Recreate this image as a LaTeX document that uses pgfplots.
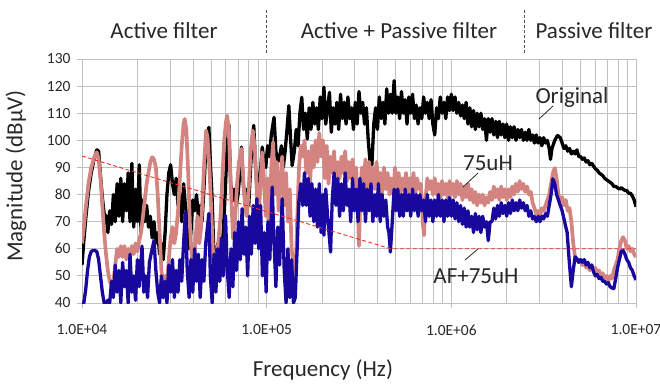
\documentclass[border=0pt]{standalone}
\usepackage{fontspec}
\setmainfont{Carlito}
\usepackage{pgfplots}
\usepackage{pgfplotstable}
\pgfplotsset{compat=1.18}
\definecolor{pinkc}{RGB}{212,132,128}
\definecolor{bluec}{RGB}{24,8,158}
\definecolor{redc}{RGB}{238,48,40}
\definecolor{gridc}{RGB}{192,192,192}
\definecolor{txtc}{RGB}{40,40,40}

\pgfplotstableread{
lx v
4.000 54
4.010 63
4.020 71
4.035 81
4.050 88
4.065 93
4.080 96.5
4.090 96
4.100 87
4.110 79
4.120 73
4.130 72
4.140 66
4.150 74
4.160 69
4.170 80
4.180 70
4.190 84
4.200 72
4.210 86
4.220 70
4.230 84
4.240 74
4.250 88
4.260 70
4.270 91.5
4.280 68
4.290 82
4.300 70
4.310 91
4.320 66
4.330 78
4.340 70
4.350 76
4.360 68
4.370 72
4.380 64
4.390 70
4.400 62
4.410 66
4.420 58
4.430 62
4.440 56
4.450 66
4.460 80
4.470 88
4.480 91
4.490 84
4.500 80
4.510 86
4.520 76
4.530 80
4.540 70
4.550 84
4.560 76
4.570 70
4.580 60
4.590 66
4.600 78
4.610 74
4.620 80
4.630 72
4.640 76
4.650 70
4.660 82
4.670 96
4.687 104.8
4.695 92
4.705 78
4.715 56
4.725 50
4.735 62
4.745 48
4.755 58
4.765 66
4.775 80
4.785 96
4.795 106
4.805 84
4.815 78
4.825 82
4.835 76
4.845 80
4.855 88
4.864 97.5
4.873 84
4.883 78
4.893 82
4.903 76
4.913 90
4.922 100
4.930 105.5
4.940 90
4.950 80
4.960 86
4.968 90
4.976 97.5
4.985 92
4.995 90
5.005 98
5.015 94
5.025 102
5.040 108.5
5.050 96
5.060 92
5.070 94
5.080 98
5.090 90
5.100 96
5.110 104
5.120 112.8
5.130 100
5.138 90.7
5.150 96
5.160 104
5.170 98
5.180 110
5.190 115.9
5.200 104
5.210 110
5.220 100.5
5.230 112
5.240 104
5.250 114
5.260 106
5.270 112
5.280 104
5.290 116
5.300 108
5.310 119.6
5.320 106
5.330 112
5.340 117.7
5.350 103
5.360 112
5.370 106
5.380 114
5.390 104
5.400 117
5.410 108
5.420 114
5.430 106
5.440 116
5.450 108
5.460 112
5.470 104
5.480 114
5.490 106
5.500 118
5.510 110
5.520 114
5.530 106
5.540 112
5.550 100
5.560 92
5.570 91
5.580 106
5.590 112
5.600 104
5.610 116
5.620 108
5.630 114
5.640 106
5.650 119
5.660 110
5.670 117
5.680 110
5.690 122
5.700 110
5.710 116
5.720 108
5.730 118
5.740 110
5.750 115
5.760 106
5.770 116
5.780 110
5.790 117
5.800 108
5.810 113
5.820 106
5.830 112
5.840 108
5.850 116
5.860 110
5.870 114
5.880 108
5.890 115
5.900 106
5.910 102
5.920 112
5.930 108
5.940 116
5.950 110
5.960 114
5.970 108
5.980 116
5.990 111
6.000 117
6.010 111
6.020 116
6.030 110
6.040 114
6.050 109
6.060 113
6.070 108
6.080 114
6.090 106
6.100 112
6.110 105
6.120 111
6.130 104
6.140 110
6.150 105
6.160 110
6.170 104
6.180 108
6.190 100
6.200 108
6.210 103
6.220 108
6.230 102
6.240 107
6.250 101
6.260 107
6.270 102
6.280 106
6.290 101
6.300 106
6.310 100
6.320 105
6.330 101
6.340 105
6.350 100
6.360 104
6.370 101
6.380 104
6.390 100
6.400 103
6.410 100
6.420 104
6.430 100
6.440 102
6.450 99
6.460 102
6.470 99
6.480 101
6.490 98
6.500 101
6.510 99
6.520 100
6.530 97
6.537 93
6.545 97
6.560 100
6.575 101.8
6.590 101
6.600 99
6.610 97
6.620 98
6.630 96
6.640 97
6.650 95
6.660 96
6.670 95
6.680 96.5
6.690 94
6.700 94
6.710 93
6.720 93.5
6.730 92
6.740 92.5
6.750 91
6.760 91.5
6.770 90.5
6.780 89.5
6.790 89
6.800 88
6.810 87.5
6.820 87
6.830 86
6.840 85.5
6.850 85
6.860 84.5
6.870 84
6.880 83
6.890 83
6.900 82.5
6.910 82
6.920 82.5
6.930 82
6.940 81.5
6.950 81.5
6.960 80.5
6.970 80.5
6.980 79.5
6.990 78
7.000 75.5
}\original

\pgfplotstableread{
lx v
4.000 62
4.010 68
4.020 75
4.035 84
4.050 90
4.065 93.5
4.080 95.6
4.090 93
4.100 86
4.110 76
4.120 66
4.130 58
4.140 52
4.150 48
4.160 46.6
4.170 48
4.180 54
4.190 60
4.200 57
4.210 61
4.220 57
4.230 61
4.240 56
4.250 60
4.260 57
4.270 61
4.280 58
4.290 62
4.300 59
4.310 63
4.320 66
4.330 72
4.340 78
4.350 84
4.360 88
4.370 92
4.380 93.8
4.390 93
4.400 90
4.410 80
4.420 66
4.430 52
4.440 47
4.450 50
4.460 46.6
4.470 56
4.480 64
4.490 68
4.500 62
4.510 66
4.520 74
4.530 86
4.540 98
4.550 106
4.556 107.9
4.565 104
4.575 88
4.585 68
4.595 56
4.605 54
4.615 64
4.625 72
4.635 62
4.645 68
4.655 82
4.665 96
4.672 103.6
4.680 101
4.690 90
4.700 74
4.710 58
4.720 51.5
4.730 56
4.740 64
4.750 72
4.760 86
4.770 100
4.780 107
4.786 109.1
4.795 104
4.805 84
4.818 63.7
4.830 72
4.840 84
4.850 92
4.864 96.9
4.875 84
4.885 74
4.893 72
4.903 82
4.913 96
4.925 103.6
4.937 96
4.947 80
4.956 71
4.965 82
4.976 95.6
4.985 86
4.995 72
5.005 86
5.015 66
5.025 90
5.035 99.3
5.045 80
5.055 92
5.065 74
5.075 86
5.084 94
5.095 76
5.105 88
5.115 70
5.125 82
5.135 60
5.145 54
5.156 50.2
5.165 70
5.175 90
5.185 98
5.195 94
5.205 100
5.215 88
5.225 96
5.235 84
5.245 98
5.255 90
5.265 100
5.275 92
5.285 102.7
5.295 94
5.305 100
5.315 86
5.325 98
5.335 84
5.345 94
5.355 88
5.365 96
5.375 84
5.385 92
5.395 86
5.405 94
5.415 88
5.425 96
5.435 85
5.445 92
5.455 86
5.465 93
5.475 84
5.485 90
5.495 72
5.500 61
5.505 74
5.515 90
5.525 84
5.535 93
5.545 80
5.555 92
5.565 84
5.575 90
5.585 82
5.595 92
5.605 84
5.615 88
5.625 80
5.635 90
5.645 82
5.655 88
5.665 80
5.675 86
5.685 80
5.695 90
5.705 82
5.715 88
5.725 80
5.735 86
5.745 82
5.755 88
5.765 80
5.775 86
5.785 82
5.795 88
5.805 80
5.815 86
5.825 82
5.835 84
5.845 70
5.852 65
5.860 78
5.870 86
5.880 82
5.890 85
5.900 80
5.910 86
5.920 80
5.930 84
5.940 79
5.950 85
5.960 80
5.970 84
5.980 79
5.990 85
6.000 80
6.010 84
6.020 79
6.030 85
6.040 80
6.050 84
6.060 78
6.070 83
6.080 79
6.090 84
6.100 78
6.110 82
6.120 77
6.130 81
6.140 76
6.150 80
6.160 77
6.170 80
6.180 76
6.190 79
6.200 77
6.210 81
6.220 78
6.230 83
6.240 79
6.250 82
6.260 78
6.270 83
6.280 79
6.290 82
6.300 78
6.310 82
6.320 79
6.330 83
6.340 80
6.350 84
6.360 81
6.370 85
6.380 82
6.390 84
6.400 81
6.410 83
6.420 80
6.430 81
6.440 77
6.450 75
6.460 73
6.470 74
6.480 72
6.490 75
6.500 74
6.510 76
6.520 78
6.530 80
6.540 84
6.550 88
6.560 89.8
6.570 86
6.580 80
6.590 78
6.600 79
6.610 76
6.620 78
6.630 74
6.640 75
6.650 70
6.660 62
6.670 57
6.680 56
6.690 55
6.700 56
6.710 54
6.720 55
6.730 53
6.740 54
6.750 52
6.760 54
6.770 52
6.780 53
6.790 51
6.800 52
6.810 50
6.820 51
6.830 49
6.840 50
6.850 48
6.860 50
6.870 49
6.880 52
6.890 54
6.900 56
6.910 60
6.920 63
6.930 64.3
6.940 63
6.950 60
6.960 61
6.970 59
6.980 60
6.990 58
7.000 57
}\seventyfive

\pgfplotstableread{
lx v
4.000 40
4.010 40
4.020 45
4.030 52
4.040 57
4.050 59
4.060 59.4
4.070 59.4
4.080 59
4.090 56
4.100 50
4.110 44
4.120 40
4.130 40
4.140 41
4.150 40
4.160 48
4.170 42
4.180 54
4.190 44
4.200 52
4.210 40
4.220 55
4.230 46
4.240 52
4.250 40
4.260 58
4.270 44
4.280 50
4.290 41
4.300 56
4.310 46
4.325 61
4.335 44
4.345 50
4.355 42
4.365 55
4.380 60
4.390 63
4.400 52
4.410 44
4.420 40
4.430 50
4.440 42
4.450 48
4.460 40
4.470 54
4.480 44
4.490 56
4.500 42
4.510 52
4.520 44
4.530 56
4.540 48
4.550 62
4.560 73.5
4.570 52
4.580 42
4.590 56
4.600 44
4.610 60
4.620 48
4.630 58
4.640 42
4.650 56
4.660 48
4.670 62
4.687 73
4.695 50
4.705 40
4.715 58
4.725 44
4.735 60
4.745 48
4.755 64
4.765 50
4.777 72.3
4.787 52
4.797 42
4.807 60
4.817 46
4.827 66
4.837 52
4.847 70
4.857 56
4.867 74.8
4.877 58
4.887 68
4.897 50
4.907 72
4.917 58
4.927 76
4.937 62
4.947 78.5
4.957 60
4.967 76
4.977 50
4.987 66
4.997 44
5.007 70
5.017 56
5.030 82.8
5.040 62
5.050 46
5.060 68
5.070 54
5.084 78.5
5.095 52
5.105 40
5.115 60
5.125 42
5.135 56
5.145 40
5.155 42
5.165 60
5.174 77.2
5.185 84
5.195 76
5.205 88
5.215 76
5.225 86
5.235 72
5.245 84
5.255 70
5.265 82
5.275 68
5.285 84
5.295 66
5.305 80
5.310 65
5.320 82
5.330 72
5.346 58.8
5.355 78
5.365 88
5.375 76
5.385 86
5.395 72
5.405 84
5.415 74
5.425 88
5.435 76
5.445 82
5.455 70
5.465 86
5.475 74
5.485 82
5.495 70
5.505 86
5.515 74
5.525 84
5.535 70
5.545 82
5.555 74
5.565 84
5.575 70
5.585 80
5.595 72
5.605 84
5.615 70
5.625 80
5.635 72
5.645 78
5.655 68
5.662 66
5.670 58.8
5.680 70
5.690 82
5.700 74
5.710 82
5.720 72
5.730 80
5.740 72
5.750 82
5.760 74
5.770 80
5.780 72
5.790 82
5.800 74
5.810 80
5.820 72
5.830 80
5.840 74
5.850 78
5.860 70
5.870 80
5.880 72
5.890 78
5.900 70
5.910 78
5.920 72
5.930 80
5.940 72
5.950 78
5.960 70
5.970 78
5.980 72
5.990 79
6.000 72
6.010 78
6.020 71
6.030 77
6.040 70
6.050 76
6.060 69
6.070 75
6.080 68
6.090 74
6.100 68
6.110 72
6.120 66
6.130 73
6.140 67
6.150 72
6.160 66
6.170 72
6.180 68
6.190 70
6.200 63
6.210 70
6.220 70
6.230 75
6.240 71
6.250 76
6.260 72
6.270 77
6.280 73
6.290 76
6.300 72
6.310 77
6.320 73
6.330 78
6.340 74
6.350 77
6.360 74
6.370 78
6.380 75
6.390 77
6.400 74
6.410 76
6.420 72
6.430 74
6.440 71
6.450 72
6.460 70
6.470 72
6.480 70
6.490 72
6.500 71
6.510 73
6.520 72
6.530 76
6.540 80
6.550 85.8
6.560 84
6.570 80
6.580 78
6.590 76
6.600 74
6.610 71
6.620 68
6.627 66
6.640 54
6.650 46
6.660 52
6.670 57
6.680 56.4
6.690 55
6.700 56
6.710 55
6.720 56
6.730 54
6.740 55
6.750 53
6.760 54
6.770 51.5
6.780 50
6.790 50.5
6.800 49
6.810 49.5
6.820 48
6.830 48
6.840 47
6.850 47.5
6.860 46
6.870 45.5
6.880 45.3
6.890 49
6.900 53
6.910 56
6.920 59
6.930 59.4
6.940 58
6.950 56
6.960 55
6.970 53
6.980 52
6.990 50
7.000 48.5
}\afseventyfive

\begin{document}
\begin{tikzpicture}
\useasboundingbox (-82pt,-81pt) rectangle (578pt,303pt);
\begin{axis}[
  at={(0pt,0pt)}, anchor=south west,
  scale only axis, width=554pt, height=244pt,
  xmode=log, log basis x=10,
  xmin=1e4, xmax=1e7, ymin=40, ymax=130,
  xtick={1e4,1e5,1e6,1e7},
  xticklabels={1.0E+04,1.0E+05,1.0E+06,1.0E+07},
  minor xtick={2e4,3e4,4e4,5e4,6e4,7e4,8e4,9e4,2e5,3e5,4e5,5e5,6e5,7e5,8e5,9e5,2e6,3e6,4e6,5e6,6e6,7e6,8e6,9e6},
  ytick={40,50,...,130},
  xtick pos=bottom, ytick pos=left,
  tick align=outside, major tick length=5pt, minor tick length=0pt,
  tick style={draw=gridc, line width=0.9pt},
  grid=both,
  major grid style={draw=gridc, line width=0.9pt},
  minor grid style={draw=gridc, line width=0.9pt},
  axis line style={draw=gridc, line width=0.9pt},
  /pgf/number format/assume math mode=true,
  ticklabel style={font=\fontsize{15.5}{18}\selectfont, text=txtc},
  xticklabel style={yshift=-13pt},
  yticklabel style={xshift=-3pt},
  line join=round,
]
\addplot[black, line width=3.3pt] table[x expr={10^(\thisrow{lx})}, y=v] {\original};
\addplot[pinkc, line width=3.7pt] table[x expr={10^(\thisrow{lx})}, y=v] {\seventyfive};
\addplot[bluec, line width=3.3pt] table[x expr={10^(\thisrow{lx})}, y=v] {\afseventyfive};
\addplot[redc, line width=0.9pt, dash pattern=on 4pt off 2.5pt] coordinates {(10000,94.2) (470000,60) (10000000,60)};
\end{axis}
\begin{scope}[font=\fontsize{23}{27}\selectfont, text=txtc]
\node at (82pt,272pt) {Active filter};
\node at (317pt,272pt) {Active + Passive filter};
\node at (512pt,272pt) {Passive filter};
\draw[txtc!80, line width=1pt, dash pattern=on 3pt off 2pt] (184pt,293pt) -- (184pt,250pt);
\draw[txtc!80, line width=1pt, dash pattern=on 3pt off 2pt] (442pt,293pt) -- (442pt,250pt);
\node at (241pt,-67pt) {Frequency (Hz)};
\node[rotate=90] at (-66pt,127pt) {Magnitude (dBμV)};
\node at (490pt,206pt) {Original};
\draw[txtc, line width=0.8pt] (471pt,197pt) -- (457pt,184pt);
\node at (406pt,140pt) {75uH};
\draw[txtc, line width=0.8pt] (396pt,130pt) -- (381pt,116pt);
\node at (394pt,27pt) {AF+75uH};
\draw[txtc, line width=0.8pt] (396pt,54pt) -- (383pt,43pt);
\end{scope}
\end{tikzpicture}
\end{document}
